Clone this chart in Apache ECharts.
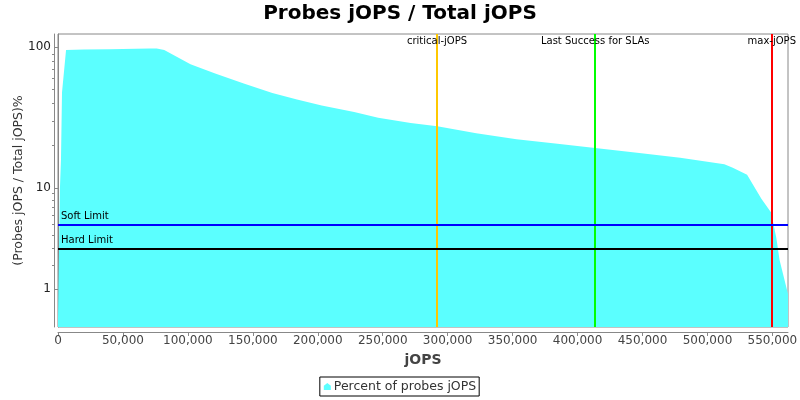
<!DOCTYPE html>
<html>
<head>
<meta charset="utf-8">
<title>Probes jOPS / Total jOPS</title>
<script src="https://cdn.jsdelivr.net/npm/echarts@6/dist/echarts.min.js"></script>
<style>
  html, body { margin: 0; padding: 0; background: #fff; }
  #chart { width: 800px; height: 400px; }
</style>
</head>
<body>
<div id="chart"></div>
<script>
// jOPS (x) and percent of probes jOPS (y)
const jops = [0, 1500, 2300, 3100, 6200, 20000, 40000, 60000, 70800, 76000, 81800,
  102000, 121000, 143000, 165000, 184000, 203000, 228000, 246500, 271500, 292000,
  322000, 353000, 384500, 413500, 447500, 479000, 513000, 519500, 530500, 541500,
  549000, 553000, 555500, 562000]
const probesPct = [0.2, 10, 16, 48, 95.6, 96.5, 97, 97.6, 98.2, 98, 95.7,
  75.9, 65.2, 55.3, 47.4, 42.5, 38.5, 34.7, 31.6, 28.9, 27.4,
  24.5, 22.2, 20.6, 19.2, 17.7, 16.4, 14.7, 13.9, 12.4, 8.2,
  6.3, 3.8, 2.3, 0.84]

const xTicks = [0, 50000, 100000, 150000, 200000, 250000, 300000, 350000, 400000, 450000, 500000, 550000]
const yLabels = [1, 10, 100]
const yMinor = [2, 3, 4, 5, 6, 7, 8, 9, 20, 30, 40, 50, 60, 70, 80, 90]

const markerNames = ['critical-jOPS', 'Last Success for SLAs', 'max-jOPS']
const markerValues = [291800, 413600, 549500]
const markerColors = ['#ffc800', '#00ff00', '#ff0000']

const limitNames = ['Soft Limit', 'Hard Limit']
const limitValues = [5, 3]
const limitColors = ['#0000ff', '#000000']

// log axis in the JFreeChart style: values under 10 are squeezed
const adjLog = v => v < 10 ? Math.log10(v + (10 - v) / 10) : Math.log10(v)

const chart = echarts.init(document.getElementById('chart'))

const yCommon = {
  type: 'value',
  min: 0.01,
  max: 2.095,
  offset: 4,
  position: 'left',
  axisLine: { show: true, lineStyle: { color: '#888' } },
  splitLine: { show: false }
}

chart.setOption({
  animation: false,
  title: {
    text: 'Probes jOPS / Total jOPS',
    left: 'center',
    top: -1,
    textStyle: { fontFamily: 'DejaVu Sans', fontWeight: 'bold', fontSize: 20, color: '#000' }
  },
  legend: {
    bottom: 4,
    left: 'center',
    data: ['Percent of probes jOPS'],
    icon: 'path://M0,4 L5,0 L10,4 L10,10 L0,10 Z',
    itemWidth: 7,
    itemHeight: 7,
    itemGap: 4,
    padding: [3, 3, 3, 4],
    borderColor: '#000',
    borderWidth: 1,
    borderRadius: 0,
    textStyle: { fontFamily: 'DejaVu Sans', fontSize: 12.5, color: '#333', padding: [0, 0, 0, -2] }
  },
  grid: {
    left: 58,
    right: 12,
    top: 34,
    bottom: 73,
    outerBoundsMode: 'none',
    containLabel: false,
    show: true,
    borderColor: '#888',
    borderWidth: 1,
    backgroundColor: '#fff'
  },
  xAxis: {
    type: 'value',
    min: 0,
    max: 562000,
    offset: 5,
    name: 'jOPS',
    nameLocation: 'middle',
    nameGap: 21,
    nameTextStyle: { fontFamily: 'DejaVu Sans', fontWeight: 'bold', fontSize: 14, color: '#444' },
    axisLine: { show: true, onZero: false, lineStyle: { color: '#888' } },
    axisTick: { show: true, length: 4, customValues: xTicks, lineStyle: { color: '#888' } },
    axisLabel: {
      customValues: xTicks,
      margin: 3,
      fontFamily: 'DejaVu Sans',
      fontSize: 12,
      color: '#444',
      formatter: v => v.toLocaleString('en-US')
    },
    splitLine: { show: false }
  },
  yAxis: [
    Object.assign({}, yCommon, {
      name: '(Probes jOPS / Total jOPS)%',
      nameLocation: 'middle',
      nameGap: 29,
      nameMoveOverlap: false,
      nameTextStyle: { fontFamily: 'DejaVu Sans', fontSize: 12.5, color: '#333' },
      axisTick: { show: true, length: 4, customValues: yLabels.map(adjLog), lineStyle: { color: '#888' } },
      axisLabel: {
        customValues: yLabels.map(adjLog),
        margin: 3,
        fontFamily: 'DejaVu Sans',
        fontSize: 12,
        color: '#222',
        formatter: v => {
          let best = yLabels[0]
          yLabels.forEach(l => { if (Math.abs(adjLog(l) - v) < Math.abs(adjLog(best) - v)) best = l })
          return String(best)
        }
      }
    }),
    Object.assign({}, yCommon, {
      axisTick: { show: true, length: 2, customValues: yMinor.map(adjLog), lineStyle: { color: '#888' } },
      axisLabel: { show: false }
    })
  ],
  series: [{
    name: 'Percent of probes jOPS',
    type: 'line',
    yAxisIndex: 0,
    data: jops.map((x, i) => [x, adjLog(probesPct[i])]),
    symbol: 'none',
    lineStyle: { width: 0 },
    itemStyle: { color: '#5bffff' },
    areaStyle: { color: '#5bffff', opacity: 1, origin: 'start' },
    markLine: {
      silent: true,
      symbol: 'none',
      animation: false,
      data: markerNames.map((n, i) => ({
        xAxis: markerValues[i],
        lineStyle: { color: markerColors[i], width: 2, type: 'solid' },
        label: {
          show: true,
          formatter: n,
          position: 'end',
          distance: -12,
          fontFamily: 'DejaVu Sans',
          fontSize: 10,
          color: '#000'
        }
      })).concat(limitNames.map((n, i) => ({
        yAxis: adjLog(limitValues[i]),
        lineStyle: { color: limitColors[i], width: 2, type: 'solid' },
        label: {
          show: true,
          formatter: n,
          position: 'insideStartTop',
          distance: [3, 3],
          fontFamily: 'DejaVu Sans',
          fontSize: 10,
          color: '#000'
        }
      })))
    }
  }]
})
</script>
</body>
</html>
